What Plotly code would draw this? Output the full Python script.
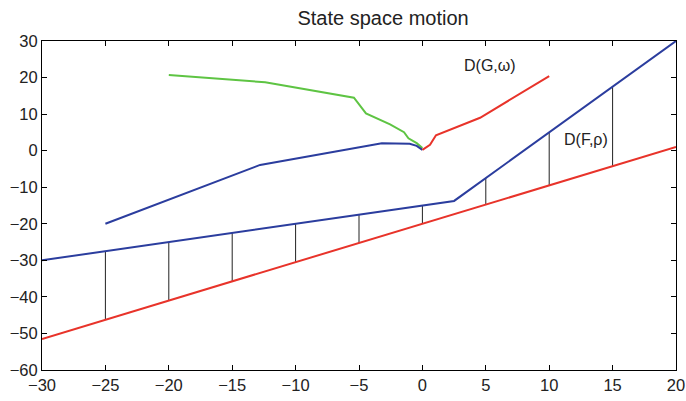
import plotly.graph_objects as go

# Reference lines
f_x = [-30, 2.5, 20]
f_y = [-30, -13.75, 30]
rho_x = [-30, 20]
rho_y = [-51.5, 1.0]

# Connectors between rho line and F line
conn_x = [-25, -20, -15, -10, -5, 0, 5, 10, 15]
conn_lo = [-46.3, -41.0, -35.8, -30.5, -25.3, -20.0, -14.8, -9.5, -4.3]
conn_hi = [-27.5, -25.0, -22.5, -20.0, -17.5, -15.0, -7.5, 5.0, 17.5]

# Trajectories
blue_x = [-25, -12.8, -3.2, -1.0, -0.45, 0]
blue_y = [-20, -3.9, 2.0, 1.9, 1.3, 0.2]
green_x = [-20.0, -12.4, -5.4, -4.45, -2.55, -1.45, -1.1, -0.45, 0]
green_y = [20.7, 18.7, 14.5, 10.2, 7.2, 5.05, 3.4, 2.05, 0.7]
red_x = [0, 0.6, 1.07, 4.55, 10.0]
red_y = [0.2, 1.6, 4.2, 9.0, 20.4]

labels = ["D(G,ω)", "D(F,ρ)"]
label_x = [5.3, 12.9]
label_y = [23.3, 3.1]

BLUE = "#2b3d9e"
RED = "#e8332a"
GREEN = "#5ec443"
FONT = "Liberation Sans, Arial"

cx, cy = [], []
for x, lo, hi in zip(conn_x, conn_lo, conn_hi):
    cx += [x, x, None]
    cy += [lo, hi, None]

fig = go.Figure()
fig.add_trace(go.Scatter(x=cx, y=cy, mode="lines", line=dict(color="#222222", width=1)))
fig.add_trace(go.Scatter(x=rho_x, y=rho_y, mode="lines", line=dict(color=RED, width=2)))
fig.add_trace(go.Scatter(x=f_x, y=f_y, mode="lines", line=dict(color=BLUE, width=2)))
fig.add_trace(go.Scatter(x=green_x, y=green_y, mode="lines", line=dict(color=GREEN, width=2)))
fig.add_trace(go.Scatter(x=blue_x, y=blue_y, mode="lines", line=dict(color=BLUE, width=2)))
fig.add_trace(go.Scatter(x=red_x, y=red_y, mode="lines", line=dict(color=RED, width=2)))

for t, x, y in zip(labels, label_x, label_y):
    fig.add_annotation(x=x, y=y, text=t, showarrow=False,
                       font=dict(size=16, color="#222222", family=FONT))

axis_common = dict(showgrid=False, zeroline=False, showline=True, linecolor="black",
                   linewidth=1, mirror="ticks", ticks="inside", ticklen=5,
                   tickcolor="black", automargin=False,
                   tickfont=dict(size=16.5, color="#222222", family=FONT))
fig.update_xaxes(range=[-30, 20], tickmode="linear", tick0=-30, dtick=5, **axis_common)
fig.update_yaxes(range=[-60, 30], tickmode="linear", tick0=-60, dtick=10, **axis_common)

fig.update_layout(
    width=686, height=401,
    margin=dict(l=42, r=10, t=41, b=31),
    paper_bgcolor="white", plot_bgcolor="white",
    showlegend=False,
    title=dict(text="State space motion", x=0.538, xref="paper", xanchor="center",
               y=0.955, yanchor="middle",
               font=dict(size=20, color="#222222", family=FONT)),
)

fig.write_html("out.html")
